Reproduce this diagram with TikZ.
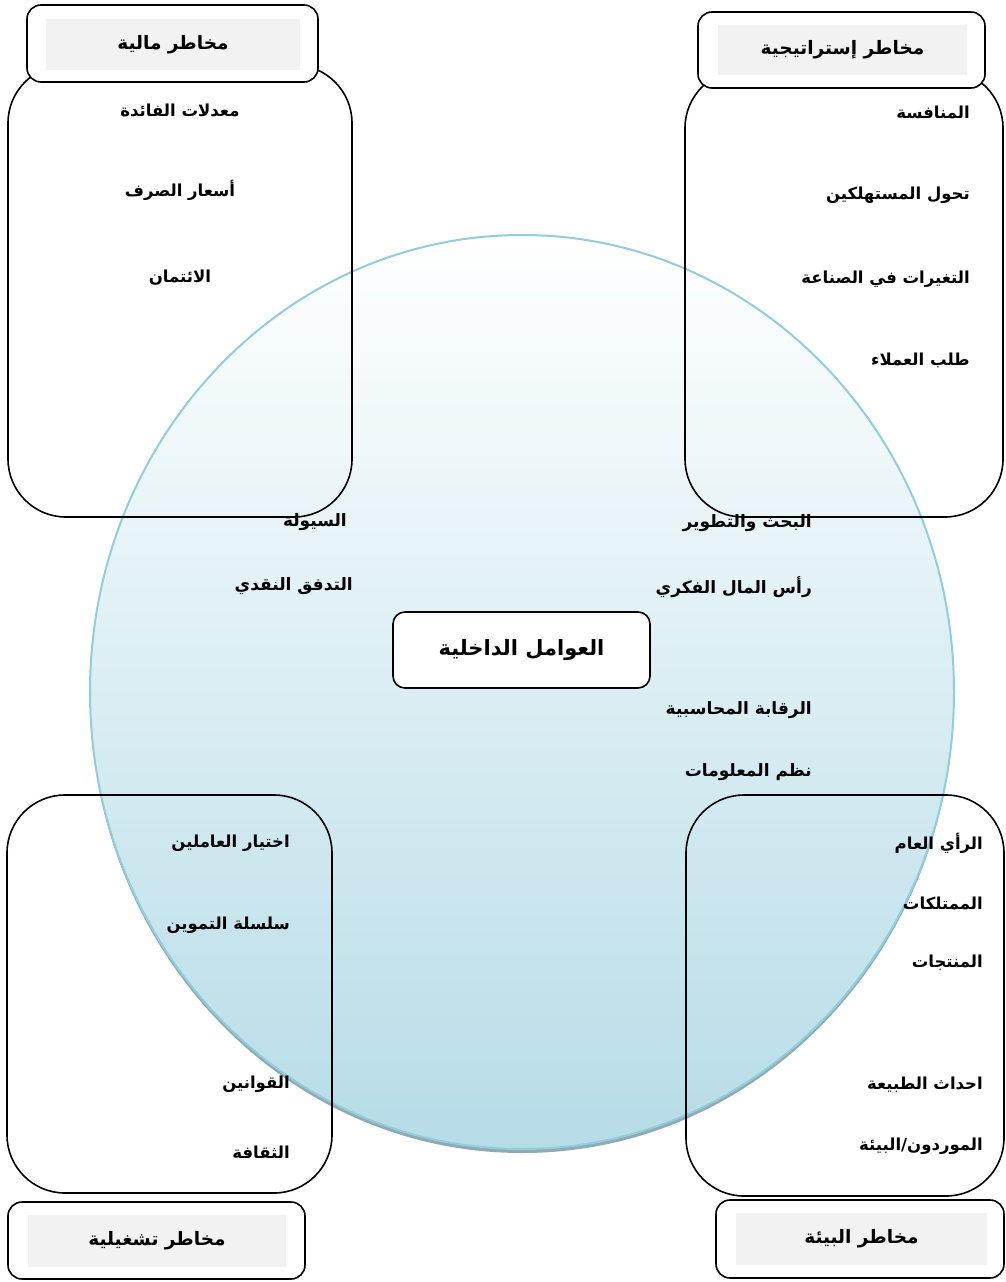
\documentclass[tikz,border=0pt]{standalone}
\usepackage{fontspec}
\TeXXeTstate=1
\newfontfamily\arabicfont[Script=Arabic]{DejaVu Sans}
\usetikzlibrary{shapes.geometric}
\newcommand\artext[1]{\beginR #1\endR}
\definecolor{hdrgray}{HTML}{F2F2F2}
\definecolor{circedge}{HTML}{92CDDC}
\definecolor{circtop}{HTML}{FFFFFF}
\definecolor{circbot}{HTML}{B6DCE7}
\definecolor{circshadow}{HTML}{8FAAB4}
\begin{document}
\begin{tikzpicture}[x=1pt,y=-1pt,
  bigbox/.style={draw, line width=1.6pt, rounded corners=58pt, inner sep=0pt},
  headbox/.style={draw, fill=white, line width=1.6pt, rounded corners=14pt, inner sep=0pt},
  grayband/.style={fill=hdrgray, inner sep=0pt},
  midbox/.style={draw, fill=white, line width=1.6pt, rounded corners=12pt, inner sep=0pt},
  headtext/.style={font=\arabicfont\bfseries\fontsize{18.5}{22}\selectfont, inner sep=0pt},
  item/.style={font=\arabicfont\bfseries\fontsize{16.5}{20}\selectfont, inner sep=0pt},
  itemr/.style={item, anchor=east},
  initem/.style={font=\arabicfont\bfseries\fontsize{17}{20}\selectfont, inner sep=0pt, anchor=east},
]
\useasboundingbox (0,0) rectangle (1006,1282);

% central ellipse with shadow
\node[ellipse, fill=circshadow, minimum width=864pt, minimum height=914pt, inner sep=0pt] (shadow) at (522,696) {};
\node[ellipse, top color=circtop, bottom color=circbot, draw=circedge, line width=2pt,
      minimum width=864pt, minimum height=914pt, inner sep=0pt] (inner) at (522,692) {};

% big boxes
\node[bigbox, minimum width=344pt, minimum height=452pt] (finbox) at (180,291) {};
\node[bigbox, minimum width=318pt, minimum height=447pt] (strbox) at (844,293.5) {};
\node[bigbox, minimum width=325pt, minimum height=398pt] (opbox) at (169.5,994) {};
\node[bigbox, minimum width=318pt, minimum height=401pt] (envbox) at (845,995.5) {};

% headers
\node[headbox, minimum width=291pt, minimum height=77pt] (finhead) at (172.5,43.5) {};
\node[grayband, minimum width=254pt, minimum height=51pt] (finband) at (173,44.5) {};
\node[headtext] (fintitle) at (finband) {\artext{مخاطر مالية}};

\node[headbox, minimum width=287pt, minimum height=76pt] (strhead) at (841.5,50) {};
\node[grayband, minimum width=249pt, minimum height=50pt] (strband) at (842.5,50) {};
\node[headtext] (strtitle) at (strband) {\artext{مخاطر إستراتيجية}};

\node[headbox, minimum width=297pt, minimum height=77pt] (ophead) at (156.5,1240.5) {};
\node[grayband, minimum width=258pt, minimum height=52pt] (opband) at (157,1241) {};
\node[headtext] (optitle) at (opband) {\artext{مخاطر تشغيلية}};

\node[headbox, minimum width=288pt, minimum height=78pt] (envhead) at (860,1239) {};
\node[grayband, minimum width=251pt, minimum height=52pt] (envband) at (861.5,1239) {};
\node[headtext] (envtitle) at (envband) {\artext{مخاطر البيئة}};

% central box
\node[midbox, minimum width=257pt, minimum height=76pt] (core) at (521.5,650) {};
\node[headtext, font=\arabicfont\bfseries\fontsize{21}{25}\selectfont] (coretitle) at (core) {\artext{العوامل الداخلية}};

% financial items
\node[item] (f1) at (180,110) {\artext{معدلات الفائدة}};
\node[item] (f2) at (180,190) {\artext{أسعار الصرف}};
\node[item] (f3) at (180,278) {\artext{الائتمان}};

% strategic items
\node[itemr] (s1) at (970,112) {\artext{المنافسة}};
\node[itemr] (s2) at (970,195) {\artext{تحول المستهلكين}};
\node[itemr] (s3) at (970,279) {\artext{التغيرات في الصناعة}};
\node[itemr] (s4) at (970,360) {\artext{طلب العملاء}};

% internal items
\node[initem] (i1) at (812,523) {\artext{البحث والتطوير}};
\node[initem] (i2) at (812,587) {\artext{رأس المال الفكري}};
\node[initem] (i3) at (812,710) {\artext{الرقابة المحاسبية}};
\node[initem] (i4) at (812,772) {\artext{نظم المعلومات}};
\node[initem] (i5) at (347,522) {\artext{السيولة}};
\node[initem] (i6) at (353,586) {\artext{التدفق النقدي}};

% operational items
\node[itemr] (o1) at (290,843) {\artext{اختيار العاملين}};
\node[itemr] (o2) at (290,925) {\artext{سلسلة التموين}};
\node[itemr] (o3) at (290,1084) {\artext{القوانين}};
\node[itemr] (o4) at (290,1152) {\artext{الثقافة}};

% environment items
\node[itemr] (e1) at (983,843) {\artext{الرأي العام}};
\node[itemr] (e2) at (983,903) {\artext{الممتلكات}};
\node[itemr] (e3) at (983,963) {\artext{المنتجات}};
\node[itemr] (e4) at (983,1085) {\artext{احداث الطبيعة}};
\node[itemr] (e5) at (983,1146) {\artext{الموردون/البيئة}};
\end{tikzpicture}
\end{document}
